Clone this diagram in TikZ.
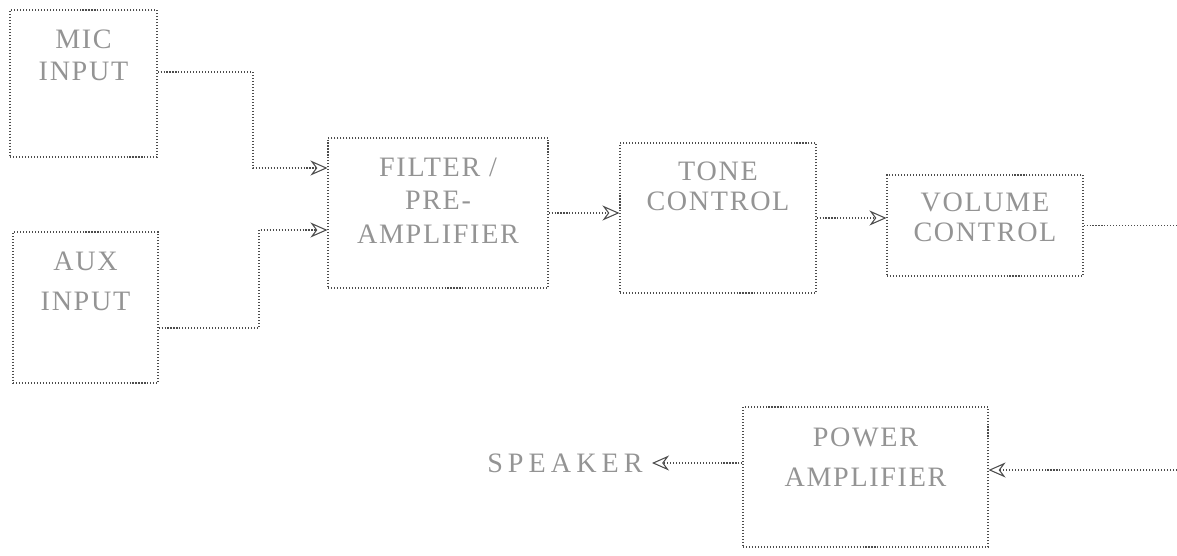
\documentclass[tikz,border=0pt]{standalone}
\usepackage{fontspec}
\setmainfont{Liberation Serif}[LetterSpace=6]
\usetikzlibrary{positioning, arrows.meta, calc}

\begin{document}
\begin{tikzpicture}[
  blk/.style={draw=black!70, line width=0.6pt, dash pattern=on 0.6pt off 1.1pt,
    minimum width=#1, inner sep=0pt},
  blk/.default={3.92cm},
  txt/.style={inner sep=0pt, align=center, text=black!42,
    font=\fontsize{16}{20}\selectfont},
  link/.style={draw=black!70, line width=0.6pt, dash pattern=on 0.6pt off 1.1pt,
    -{Stealth[open, length=0.34cm, width=0.3cm]}},
  >=Stealth
]
\useasboundingbox (0, 0) rectangle (23.54, -11.10);

% Inputs
\node[blk=2.94cm, minimum height=2.94cm] (mic) at (1.67, -1.67) {};
\node[txt, below=0.4cm of mic.north] (mic_t) {MIC\\[-2pt]INPUT};
\node[blk=2.90cm, minimum height=3.02cm] (aux) at (1.71, -6.15) {};
\node[txt, below=0.4cm of aux.north] (aux_t) {AUX\\[3pt]INPUT};

% Signal chain
\node[blk=4.40cm, minimum height=3.00cm] (filt) at (8.76, -4.26) {};
\node[txt, below=0.4cm of filt.north] (filt_t) {FILTER /\\[-1pt]PRE-\\[-1pt]AMPLIFIER};
\node[blk, minimum height=3.00cm] (tone) at (14.36, -4.36) {};
\node[txt, below=0.38cm of tone.north] (tone_t) {TONE\\[-3pt]CONTROL};
\node[blk, minimum height=2.02cm] (vol) at (19.70, -4.51) {};
\node[txt, below=0.36cm of vol.north] (vol_t) {VOLUME\\[-3pt]CONTROL};

% Output stage
\node[blk=4.90cm, minimum height=2.80cm] (pwr) at (17.31, -9.54) {};
\node[txt, below=0.42cm of pwr.north] (pwr_t) {POWER\\[3pt]AMPLIFIER};
\node[txt, anchor=east, inner xsep=0.18cm] (spk) at (13.04, -9.26)
  {\addfontfeatures{LetterSpace=18}SPEAKER};

% Wiring
\coordinate (micbend) at (5.06, -2.5);
\coordinate (auxbend) at (5.18, -5.5);
\coordinate (volout) at (23.54, -4.51);
\coordinate (pwrin) at (23.54, -9.40);

\draw[link] ([yshift=0.23cm]mic.east) -| (micbend) |- ([yshift=0.9cm]filt.west);
\draw[link] ([yshift=-0.41cm]aux.east) -| (auxbend) |- ([yshift=-0.34cm]filt.west);
\draw[link] (filt.east) -- (filt.east -| tone.west);
\draw[link] (tone.east) -- (tone.east -| vol.west);
\draw[link, -] (vol.east) -- (volout);
\draw[link] (pwrin) -- (pwrin -| pwr.east);
\draw[link] (spk.east -| pwr.west) -- (spk.east);

\end{tikzpicture}
\end{document}
